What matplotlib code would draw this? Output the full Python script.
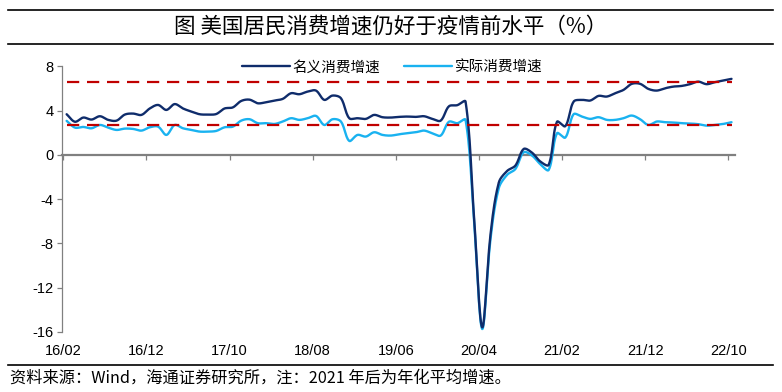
import numpy as np
import matplotlib
matplotlib.use("Agg")
import matplotlib.pyplot as plt

plt.rcParams['font.family'] = ['Liberation Sans', 'Noto Sans CJK SC', 'DejaVu Sans']
plt.rcParams['axes.unicode_minus'] = False

# ---------------- data ----------------
title = "图 美国居民消费增速仍好于疫情前水平（%）"
footer = "资料来源：Wind，海通证券研究所，注：2021 年后为年化平均增速。"
series_names = ["名义消费增速", "实际消费增速"]

tick_labels = ["16/02", "16/12", "17/10", "18/08", "19/06", "20/04", "21/02", "21/12", "22/10"]
yticks = [8, 4, 0, -4, -8, -12, -16]

nominal = [3.68, 3.0, 3.38, 3.2, 3.5, 3.17, 3.1, 3.65, 3.74, 3.62,
           4.2, 4.52, 4.07, 4.6, 4.2, 3.92, 3.68, 3.65, 3.7, 4.2,
           4.3, 4.88, 5.0, 4.67, 4.77, 4.92, 5.07, 5.58, 5.49, 5.73,
           5.82, 4.98, 5.37, 5.13, 3.32, 3.32, 3.26, 3.62, 3.41, 3.38,
           3.44, 3.47, 3.44, 3.5, 3.26, 3.1, 4.4, 4.5, 4.82, -5.4,
           -15.6, -7.2, -2.5, -1.45, -0.96, 0.54, 0.2, -0.6, -0.9, 3.0,
           2.6, 4.82, 4.98, 4.92, 5.34, 5.28, 5.58, 5.88, 6.43, 6.43,
           5.97, 5.82, 6.03, 6.18, 6.24, 6.4, 6.63, 6.4, 6.58, 6.73,
           6.88]
real = [3.08, 2.47, 2.53, 2.41, 2.71, 2.47, 2.26, 2.38, 2.35, 2.2,
        2.5, 2.56, 1.81, 2.71, 2.41, 2.26, 2.11, 2.11, 2.17, 2.5,
        2.56, 3.1, 3.23, 2.87, 2.87, 2.8, 3.02, 3.32, 3.17, 3.32,
        3.53, 2.71, 3.23, 3.02, 1.27, 1.81, 1.66, 2.05, 1.81, 1.75,
        1.87, 1.96, 2.05, 2.2, 1.96, 1.75, 3.0, 2.87, 3.17, -5.8,
        -15.75, -7.6, -3.0, -1.8, -1.27, 0.24, -0.06, -0.84, -1.36, 1.96,
        1.57, 3.68, 3.47, 3.26, 3.41, 3.17, 3.17, 3.32, 3.56, 3.23,
        2.71, 3.02, 2.96, 2.93, 2.87, 2.84, 2.78, 2.65, 2.71, 2.8,
        2.96]
ref_levels = [6.6, 2.75]

# ---------------- helpers ----------------
def smooth(x, y, sx=8.31, sy=11.05, n=14):
    """Excel-like smoothed line: Bezier through the points, control
    points weighted by chord length (computed in screen proportions)."""
    P = np.column_stack([np.asarray(x, float) * sx, np.asarray(y, float) * sy])
    m = len(P)
    fwd = np.zeros_like(P)
    bwd = np.zeros_like(P)
    for i in range(m):
        pp = P[max(i - 1, 0)]
        pn = P[min(i + 1, m - 1)]
        T = pn - pp
        dp = np.hypot(*(P[i] - pp))
        dn = np.hypot(*(pn - P[i]))
        s = dp + dn
        if s == 0:
            continue
        fwd[i] = P[i] + T * (dn / s) / 3.0
        bwd[i] = P[i] - T * (dp / s) / 3.0
    t = np.linspace(0, 1, n + 1)[1:][:, None]
    out = [P[0]]
    for i in range(m - 1):
        p1, c1, c2, p2 = P[i], fwd[i], bwd[i + 1], P[i + 1]
        seg = (1 - t) ** 3 * p1 + 3 * (1 - t) ** 2 * t * c1 + 3 * (1 - t) * t ** 2 * c2 + t ** 3 * p2
        out.extend(seg)
    out = np.array(out)
    return out[:, 0] / sx, out[:, 1] / sy

# ---------------- figure ----------------
fig = plt.figure(figsize=(7.82, 3.92), dpi=100)
ax = fig.add_axes([0.0797, 0.1536, 0.8603, 0.6768])

n = len(nominal)
x = np.arange(n) + 0.4

dark = '#0f2c6b'
light = '#19b2f0'
red = '#c00000'

xs, ys = smooth(x, nominal)
ax.plot(xs, ys, color=dark, lw=1.7, label=series_names[0], zorder=4, solid_capstyle='round')
xs, ys = smooth(x, real)
ax.plot(xs, ys, color=light, lw=1.7, label=series_names[1], zorder=3, solid_capstyle='round')

for lv in ref_levels:
    ax.plot([x[0], x[-1]], [lv, lv], color=red, lw=1.6, dashes=(5.5, 3.5), zorder=5)

ax.set_xlim(-0.12, 80.83)
ax.set_ylim(-16, 8)
ax.set_yticks(yticks)
ax.set_yticklabels([str(v) for v in yticks], fontsize=10.5)

tick_pos = np.arange(0, 81, 10)
ax.set_xticks(tick_pos)
ax.set_xticklabels([])
ax.spines['bottom'].set_position(('data', 0))
ax.spines['bottom'].set_color('#808080')
ax.spines['bottom'].set_linewidth(1.6)
ax.spines['bottom'].set_zorder(2)
ax.spines['left'].set_color('#808080')
ax.spines['left'].set_linewidth(0.9)
ax.spines['top'].set_visible(False)
ax.spines['right'].set_visible(False)
ax.tick_params(axis='x', direction='out', length=3.5, width=0.9, color='#808080')
ax.tick_params(axis='y', direction='out', length=3.5, width=0.9, color='#808080', pad=3)

sec = ax.secondary_xaxis(0.0)
sec.set_xticks(tick_pos)
sec.set_xticklabels(tick_labels, fontsize=10.5)
sec.tick_params(length=0, pad=9)
sec.spines['bottom'].set_visible(False)

leg = ax.legend(loc='upper center', bbox_to_anchor=(0.49, 1.045), ncol=2, frameon=False,
                prop={'family': ['Noto Sans CJK SC'], 'size': 10.5}, handlelength=3.3,
                columnspacing=1.6, handletextpad=0.2, borderaxespad=0.0)

# title and frame lines
fig.add_artist(plt.Line2D([0.010, 0.988], [1 - 9.5 / 392, 1 - 9.5 / 392], color='black', lw=1.2))
fig.add_artist(plt.Line2D([0.010, 0.988], [1 - 44 / 392, 1 - 44 / 392], color='black', lw=1.2))
fig.add_artist(plt.Line2D([0.010, 0.988], [1 - 365 / 392, 1 - 365 / 392], color='black', lw=1.2))
fig.text(0.5, 1 - 27 / 392, title, ha='center', va='center', fontsize=15.5,
         family=['Noto Sans CJK SC', 'DejaVu Sans'])
fig.text(0.013, 1 - 378.5 / 392, footer, ha='left', va='center', fontsize=11.7,
         family=['Noto Sans CJK SC', 'DejaVu Sans'])

fig.savefig('out.png', dpi=100)
